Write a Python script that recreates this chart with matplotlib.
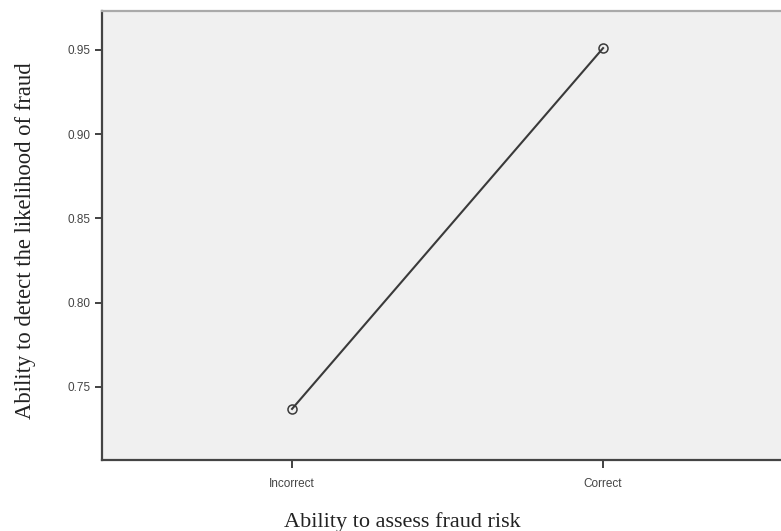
import matplotlib.pyplot as plt

# Data
categories = ['Incorrect', 'Correct']
detect_means = [0.737, 0.951]
y_ticks = [0.75, 0.80, 0.85, 0.90, 0.95]

fig = plt.figure(figsize=(7.81, 5.31), dpi=100)
ax = fig.add_axes([0.1306, 0.1337, 0.8694, 0.8456])
ax.set_facecolor('#f0f0f0')

x = list(range(len(categories)))
ax.plot(x, detect_means, color='#3a3a3a', linewidth=1.5,
        marker='o', markersize=6.5, markerfacecolor='none',
        markeredgecolor='#3a3a3a', markeredgewidth=1.1)

ax.set_xlim(-0.611, 1.572)
ax.set_ylim(0.7067, 0.973)
ax.set_xticks(x)
ax.set_xticklabels(categories, fontfamily='Liberation Sans', fontsize=8.5, color='#444444')
ax.set_yticks(y_ticks)
ax.set_yticklabels([f'{v:.2f}' for v in y_ticks], fontfamily='Liberation Sans',
                   fontsize=8.5, color='#444444')
ax.tick_params(axis='y', length=5, width=1.3, color='#333333', pad=3.5)
ax.tick_params(axis='x', length=5.5, width=1.3, color='#333333', pad=7.5)

for side in ['left', 'bottom']:
    ax.spines[side].set_color('#444444')
    ax.spines[side].set_linewidth(1.6)
ax.spines['top'].set_color('#aaaaaa')
ax.spines['top'].set_linewidth(1.6)
ax.spines['right'].set_visible(False)

fig.text(402 / 781, 1 - 527 / 531, 'Ability to assess fraud risk',
         ha='center', va='baseline', fontfamily='Liberation Serif', fontsize=16, color='#222222')
fig.text(26 / 781, 1 - 241 / 531, 'Ability to detect the likelihood of fraud',
         ha='center', va='center', rotation=90, fontfamily='Liberation Serif',
         fontsize=16.3, color='#222222')

fig.savefig('out.png', dpi=100)
